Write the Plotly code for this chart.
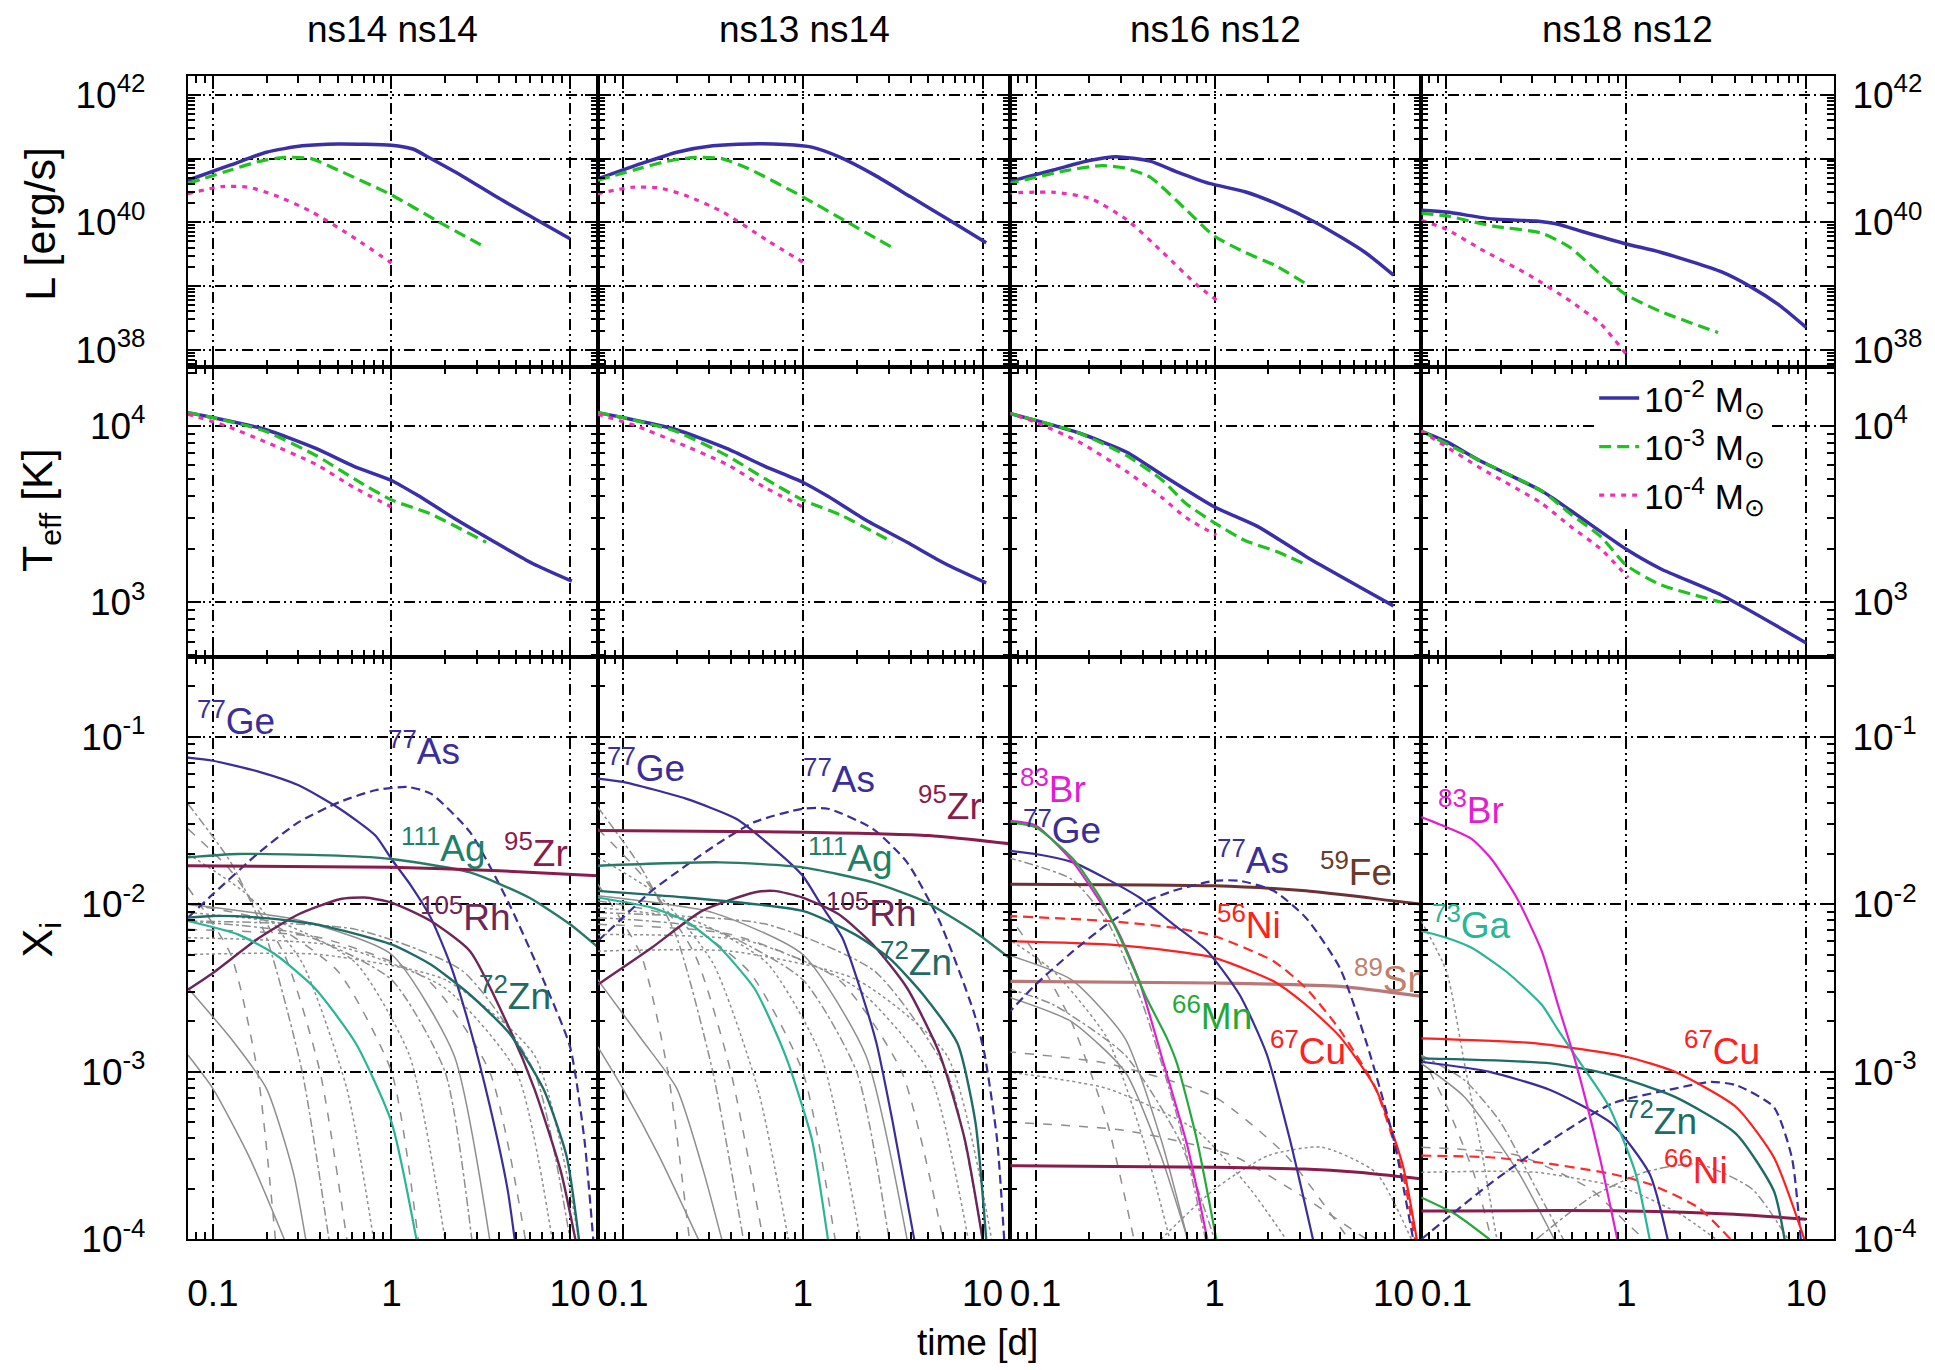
import plotly.graph_objects as go

W, H = 1935, 1370
FONT = "Liberation Sans, Arial, sans-serif"
NARROW = "Liberation Sans Narrow, Liberation Sans, Arial, sans-serif"

PANEL_TITLES = ["ns14 ns14", "ns13 ns14", "ns16 ns12", "ns18 ns12"]
MASS_NAMES = ["10<sup>-2</sup> M<sub>⊙</sub>",
              "10<sup>-3</sup> M<sub>⊙</sub>",
              "10<sup>-4</sup> M<sub>⊙</sub>"]

# ---------------- Luminosity: log10(t [d]), log10(L [erg/s]); masses 1e-2, 1e-3, 1e-4
lum_ns14_ns14 = [
    ([-1.14, -0.9, -0.7, -0.5, -0.3, 0.0, 0.12, 0.22, 0.4, 0.6, 0.8, 1.0],
     [40.66, 40.9, 41.1, 41.2, 41.23, 41.21, 41.15, 41.0, 40.72, 40.38, 40.06, 39.74]),
    ([-1.14, -0.9, -0.75, -0.6, -0.45, -0.3, 0.0, 0.25, 0.53],
     [40.61, 40.82, 40.95, 41.02, 41.0, 40.82, 40.43, 40.03, 39.6]),
    ([-1.14, -0.95, -0.8, -0.65, -0.45, -0.2, 0.0],
     [40.45, 40.56, 40.55, 40.42, 40.17, 39.74, 39.36]),
]
lum_ns13_ns14 = [
    ([-1.14, -0.9, -0.7, -0.5, -0.3, -0.1, 0.05, 0.2, 0.4, 0.6, 0.8, 1.02],
     [40.68, 40.92, 41.1, 41.2, 41.23, 41.22, 41.18, 41.03, 40.74, 40.4, 40.06, 39.68]),
    ([-1.14, -0.9, -0.75, -0.6, -0.45, -0.3, 0.0, 0.25, 0.5],
     [40.66, 40.85, 40.96, 41.02, 41.0, 40.84, 40.4, 40.0, 39.6]),
    ([-1.14, -0.95, -0.8, -0.65, -0.45, -0.2, 0.02],
     [40.45, 40.55, 40.54, 40.42, 40.17, 39.72, 39.34]),
]
lum_ns16_ns12 = [
    ([-1.16, -0.9, -0.7, -0.55, -0.36, -0.2, -0.03, 0.17, 0.34, 0.57, 0.84, 1.0],
     [40.63, 40.82, 40.97, 41.03, 40.96, 40.78, 40.61, 40.48, 40.3, 39.99, 39.53, 39.17]),
    ([-1.16, -0.83, -0.63, -0.5, -0.36, -0.16, 0.0, 0.17, 0.34, 0.52],
     [40.6, 40.81, 40.89, 40.85, 40.71, 40.2, 39.78, 39.53, 39.32, 39.02]),
    ([-1.16, -0.89, -0.69, -0.49, -0.29, -0.1, 0.02],
     [40.46, 40.47, 40.37, 40.04, 39.53, 39.02, 38.76]),
]
lum_ns18_ns12 = [
    ([-1.14, -1.0, -0.74, -0.5, -0.38, -0.25, 0.0, 0.19, 0.53, 0.69, 0.85, 1.0],
     [40.19, 40.16, 40.05, 40.02, 39.97, 39.86, 39.66, 39.53, 39.22, 38.99, 38.7, 38.35]),
    ([-1.14, -1.0, -0.74, -0.47, -0.31, -0.14, 0.0, 0.19, 0.51],
     [40.14, 40.1, 39.94, 39.83, 39.6, 39.17, 38.86, 38.6, 38.27]),
    ([-1.14, -1.0, -0.81, -0.54, -0.31, -0.14, 0.01],
     [40.03, 39.89, 39.58, 39.17, 38.76, 38.4, 37.89]),
]

# ---------------- Effective temperature: log10(t [d]), log10(Teff [K])
teff_ns14_ns14 = [
    ([-1.14, -1.0, -0.71, -0.42, -0.21, 0.0, 0.14, 0.36, 0.58, 0.79, 1.01],
     [4.074, 4.046, 3.98, 3.87, 3.77, 3.69, 3.61, 3.47, 3.34, 3.22, 3.12]),
    ([-1.14, -1.0, -0.71, -0.42, -0.21, 0.0, 0.22, 0.53],
     [4.074, 4.046, 3.97, 3.83, 3.70, 3.58, 3.50, 3.34]),
    ([-1.14, -0.93, -0.71, -0.42, -0.21, 0.0],
     [4.065, 4.0, 3.91, 3.78, 3.65, 3.54]),
]
teff_ns13_ns14 = [
    ([-1.14, -1.0, -0.71, -0.42, -0.21, 0.0, 0.14, 0.36, 0.58, 0.79, 1.02],
     [4.074, 4.046, 3.98, 3.87, 3.77, 3.68, 3.60, 3.46, 3.34, 3.22, 3.11]),
    ([-1.14, -1.0, -0.71, -0.42, -0.21, 0.0, 0.22, 0.5],
     [4.074, 4.046, 3.97, 3.83, 3.70, 3.58, 3.49, 3.34]),
    ([-1.14, -0.93, -0.71, -0.42, -0.21, 0.0],
     [4.065, 4.0, 3.91, 3.78, 3.65, 3.54]),
]
teff_ns16_ns12 = [
    ([-1.16, -1.0, -0.76, -0.49, -0.29, 0.0, 0.24, 0.51, 1.0],
     [4.074, 4.03, 3.96, 3.85, 3.72, 3.54, 3.43, 3.26, 2.98]),
    ([-1.16, -0.76, -0.49, -0.29, -0.16, 0.0, 0.17, 0.34, 0.52],
     [4.074, 3.96, 3.83, 3.69, 3.56, 3.45, 3.35, 3.29, 3.21]),
    ([-1.16, -1.0, -0.76, -0.49, -0.29, -0.16, 0.01],
     [4.074, 4.02, 3.91, 3.74, 3.59, 3.48, 3.38]),
]
teff_ns18_ns12 = [
    ([-1.14, -1.0, -0.81, -0.47, -0.31, 0.0, 0.19, 0.53, 1.0],
     [3.97, 3.91, 3.80, 3.63, 3.52, 3.30, 3.19, 3.04, 2.77]),
    ([-1.14, -0.81, -0.47, -0.31, -0.14, 0.0, 0.19, 0.53],
     [3.97, 3.80, 3.63, 3.50, 3.37, 3.21, 3.10, 3.00]),
    ([-1.14, -0.81, -0.47, -0.31, -0.14, 0.01],
     [3.97, 3.76, 3.56, 3.43, 3.30, 3.14]),
]

# ---------------- Mass fractions: log10(t [d]), log10(X_i)
iso_ns14_ns14 = {
    "Ge77": ([-1.14, -1.0, -0.74, -0.52, -0.29, -0.09, 0.0, 0.11, 0.22, 0.33, 0.44, 0.55, 0.65, 0.69],
             [-1.125, -1.144, -1.21, -1.29, -1.43, -1.59, -1.73, -1.89, -2.08, -2.36, -2.74, -3.2, -3.7, -4.0]),
    "As77": ([-1.14, -1.0, -0.74, -0.52, -0.29, -0.09, 0.09, 0.22, 0.44, 0.66, 0.85, 1.0, 1.08, 1.13],
             [-2.08, -1.94, -1.69, -1.51, -1.39, -1.32, -1.30, -1.34, -1.57, -2.0, -2.45, -2.85, -3.4, -4.0]),
    "Ag111": ([-1.14, -0.86, -0.3, 0.0, 0.44, 0.77, 1.0, 1.16],
              [-1.72, -1.70, -1.71, -1.73, -1.81, -1.96, -2.12, -2.26]),
    "Zr95": ([-1.14, 0.0, 0.6, 1.16], [-1.77, -1.78, -1.80, -1.83]),
    "Rh105": ([-1.14, -1.0, -0.74, -0.52, -0.29, -0.15, 0.0, 0.22, 0.44, 0.66, 0.8, 0.95, 1.03],
              [-2.51, -2.41, -2.20, -2.06, -1.97, -1.96, -1.99, -2.10, -2.28, -2.74, -3.1, -3.6, -4.0]),
    "Zn72": ([-1.14, -1.0, -0.74, -0.42, 0.0, 0.22, 0.44, 0.66, 0.85, 0.98, 1.05],
             [-2.08, -2.07, -2.08, -2.12, -2.24, -2.36, -2.54, -2.77, -3.1, -3.5, -4.0]),
    "Ga73": ([-1.14, -0.86, -0.65, -0.43, -0.2, 0.0, 0.14],
             [-2.10, -2.18, -2.30, -2.50, -2.83, -3.3, -4.0]),
}
iso_ns13_ns14 = {
    "Ge77": ([-1.14, -1.0, -0.65, -0.37, -0.18, 0.0, 0.10, 0.22, 0.33, 0.41, 0.5, 0.62],
             [-1.25, -1.27, -1.37, -1.49, -1.65, -1.83, -2.0, -2.2, -2.54, -2.83, -3.3, -4.0]),
    "As77": ([-1.14, -1.0, -0.84, -0.65, -0.46, -0.27, 0.0, 0.14, 0.39, 0.58, 0.76, 0.95, 1.01, 1.08, 1.12],
             [-2.22, -2.08, -1.92, -1.77, -1.63, -1.51, -1.43, -1.43, -1.55, -1.75, -2.10, -2.64, -2.89, -3.4, -4.0]),
    "Zr95": ([-1.14, 0.0, 0.7, 1.16], [-1.56, -1.57, -1.59, -1.64]),
    "Ag111": ([-1.14, -0.46, 0.0, 0.39, 0.67, 0.95, 1.16],
              [-1.77, -1.75, -1.78, -1.87, -1.98, -2.16, -2.33]),
    "Rh105": ([-1.14, -0.84, -0.56, -0.27, -0.16, 0.0, 0.2, 0.39, 0.58, 0.76, 0.9, 1.0],
              [-2.48, -2.26, -2.04, -1.93, -1.92, -1.96, -2.06, -2.24, -2.50, -2.89, -3.4, -4.0]),
    "Zn72": ([-1.14, -0.65, 0.0, 0.29, 0.48, 0.67, 0.86, 0.96, 1.02],
             [-1.92, -1.96, -2.04, -2.18, -2.32, -2.54, -2.83, -3.3, -4.0]),
    "Ga73": ([-1.14, -0.84, -0.65, -0.46, -0.27, -0.16, -0.08, 0.05, 0.14],
             [-1.96, -2.02, -2.10, -2.26, -2.50, -2.74, -2.95, -3.4, -4.0]),
}
iso_ns16_ns12 = {
    "Zr95": ([-1.16, 0.0, 0.5, 0.8, 1.16], [-3.56, -3.57, -3.58, -3.60, -3.64]),
    "Sr89": ([-1.16, 0.0, 0.7, 1.16], [-2.46, -2.47, -2.49, -2.55]),
    "Fe59": ([-1.16, 0.0, 0.51, 1.0, 1.16], [-1.88, -1.89, -1.92, -1.98, -2.0]),
    "Ni56": ([-1.16, -0.6, -0.23, 0.0, 0.33, 0.51, 0.70, 0.9, 1.05, 1.12],
             [-2.07, -2.10, -2.14, -2.19, -2.34, -2.50, -2.75, -3.1, -3.6, -4.0]),
    "Cu67": ([-1.16, -0.6, -0.23, 0.0, 0.33, 0.51, 0.70, 0.9, 1.05, 1.13],
             [-2.22, -2.24, -2.28, -2.32, -2.46, -2.60, -2.79, -3.1, -3.55, -4.0]),
    "As77": ([-1.16, -1.0, -0.79, -0.6, -0.42, -0.23, 0.0, 0.14, 0.33, 0.51, 0.70, 0.85, 1.0, 1.11],
             [-2.66, -2.48, -2.28, -2.12, -2.0, -1.92, -1.86, -1.86, -1.92, -2.08, -2.38, -2.83, -3.4, -4.0]),
    "Ge77": ([-1.16, -1.0, -0.79, -0.6, -0.42, -0.23, -0.04, 0.14, 0.29, 0.42, 0.55],
             [-1.68, -1.70, -1.75, -1.85, -1.96, -2.12, -2.28, -2.54, -2.89, -3.4, -4.0]),
    "Br83": ([-1.16, -1.0, -0.79, -0.55, -0.42, -0.29, -0.15, -0.04],
             [-1.50, -1.53, -1.75, -2.14, -2.46, -2.93, -3.45, -4.0]),
    "Mn66": ([-1.16, -1.0, -0.79, -0.64, -0.51, -0.38, -0.27, -0.21, -0.1, 0.01],
             [-1.51, -1.54, -1.73, -1.96, -2.24, -2.56, -2.79, -2.95, -3.4, -4.0]),
}
iso_ns18_ns12 = {
    "Zr95": ([-1.14, 0.0, 0.6, 1.0], [-3.83, -3.83, -3.85, -3.88]),
    "Mn66": ([-1.14, -0.95, -0.76], [-3.75, -3.85, -4.0]),
    "Ni66": ([-1.14, -0.76, -0.42, -0.08, 0.13, 0.40, 0.58],
             [-3.50, -3.51, -3.55, -3.61, -3.67, -3.81, -4.0]),
    "As77": ([-1.14, -0.76, -0.42, -0.08, 0.27, 0.47, 0.61, 0.82, 0.92, 0.97],
             [-4.0, -3.67, -3.41, -3.19, -3.10, -3.06, -3.08, -3.21, -3.51, -4.0]),
    "Ge77": ([-1.14, -0.76, -0.42, -0.08, 0.13, 0.23],
             [-2.94, -3.0, -3.11, -3.31, -3.61, -4.0]),
    "Zn72": ([-1.14, -0.42, -0.08, 0.27, 0.61, 0.82, 0.88],
             [-2.92, -2.95, -3.02, -3.15, -3.37, -3.71, -4.0]),
    "Cu67": ([-1.14, -0.5, 0.0, 0.27, 0.61, 0.82, 0.99],
             [-2.80, -2.83, -2.91, -3.0, -3.21, -3.51, -4.0]),
    "Ga73": ([-1.14, -1.0, -0.86, -0.67, -0.47, -0.38, -0.28, -0.1, 0.05, 0.13],
             [-2.16, -2.20, -2.26, -2.40, -2.60, -2.75, -2.91, -3.2, -3.6, -4.0]),
    "Br83": ([-1.14, -1.0, -0.86, -0.75, -0.61, -0.47, -0.38, -0.28, -0.15, -0.05],
             [-1.48, -1.54, -1.61, -1.73, -1.96, -2.28, -2.60, -2.95, -3.5, -4.0]),
}

# other (unlabelled) isotopes, grey: log10(t), log10(X)
grey_ns14_ns14 = [
    ([-1.14, -0.9, -0.7, -0.5, -0.35], [-1.40, -1.75, -2.2, -3.0, -4.0]),
    ([-1.14, -0.9, -0.6, -0.4, -0.25], [-1.55, -1.80, -2.3, -3.0, -4.0]),
    ([-1.14, -0.8, -0.5, -0.25, -0.1], [-1.70, -1.95, -2.35, -3.1, -4.0]),
    ([-1.14, -0.9, -0.7, -0.55, -0.48], [-2.5, -2.8, -3.1, -3.6, -4.0]),
    ([-1.14, -0.7, -0.3, 0.0, 0.15], [-2.0, -2.1, -2.4, -3.0, -4.0]),
    ([-1.14, -0.6, -0.2, 0.1, 0.3], [-2.05, -2.12, -2.35, -2.9, -4.0]),
    ([-1.14, -0.5, 0.0, 0.3, 0.45], [-2.1, -2.18, -2.45, -3.0, -4.0]),
    ([-1.14, -0.5, 0.0, 0.35, 0.55], [-2.0, -2.1, -2.3, -2.9, -4.0]),
    ([-1.14, -0.4, 0.2, 0.55, 0.75], [-2.15, -2.2, -2.45, -3.0, -4.0]),
    ([-1.14, -0.3, 0.3, 0.7, 0.9], [-2.2, -2.25, -2.5, -3.0, -4.0]),
    ([-1.14, -0.2, 0.4, 0.8, 1.0], [-2.1, -2.15, -2.4, -3.0, -4.0]),
    ([-1.14, -1.0, -0.8, -0.6], [-2.9, -3.1, -3.5, -4.0]),
    ([-1.14, -0.9, -0.75, -0.65], [-1.9, -2.3, -3.0, -4.0]),
    ([-1.14, -0.4, 0.3, 0.8, 1.05], [-2.3, -2.3, -2.45, -2.9, -4.0]),
]
grey_ns13_ns14 = [
    ([-1.14, -0.9, -0.7, -0.5, -0.33], [-1.42, -1.78, -2.2, -3.0, -4.0]),
    ([-1.14, -0.9, -0.6, -0.4, -0.22], [-1.55, -1.82, -2.3, -3.0, -4.0]),
    ([-1.14, -0.8, -0.5, -0.25, -0.08], [-1.72, -1.95, -2.35, -3.1, -4.0]),
    ([-1.14, -0.9, -0.7, -0.55, -0.45], [-2.45, -2.8, -3.1, -3.6, -4.0]),
    ([-1.14, -0.7, -0.3, 0.0, 0.18], [-1.98, -2.08, -2.4, -3.0, -4.0]),
    ([-1.14, -0.6, -0.2, 0.1, 0.32], [-2.02, -2.1, -2.35, -2.9, -4.0]),
    ([-1.14, -0.5, 0.0, 0.3, 0.48], [-2.08, -2.15, -2.45, -3.0, -4.0]),
    ([-1.14, -0.5, 0.0, 0.35, 0.58], [-1.95, -2.05, -2.3, -2.9, -4.0]),
    ([-1.14, -0.4, 0.2, 0.55, 0.78], [-2.12, -2.18, -2.45, -3.0, -4.0]),
    ([-1.14, -0.3, 0.3, 0.7, 0.92], [-2.18, -2.22, -2.5, -3.0, -4.0]),
    ([-1.14, -0.2, 0.4, 0.8, 1.0], [-2.05, -2.12, -2.4, -3.0, -4.0]),
    ([-1.14, -1.0, -0.8, -0.58], [-2.85, -3.1, -3.5, -4.0]),
    ([-1.14, -0.9, -0.75, -0.63], [-1.88, -2.3, -3.0, -4.0]),
    ([-1.14, -0.4, 0.3, 0.8, 1.05], [-2.28, -2.28, -2.45, -2.9, -4.0]),
]
grey_ns16_ns12 = [
    ([-1.16, -0.8, -0.6, -0.4, -0.2, -0.05], [-1.72, -1.85, -2.1, -2.6, -3.3, -4.0]),
    ([-1.16, -1.0, -0.8, -0.6, -0.45], [-2.05, -2.3, -2.7, -3.3, -4.0]),
    ([-1.16, -0.9, -0.6, -0.4, -0.25], [-2.2, -2.4, -2.8, -3.4, -4.0]),
    ([-1.16, -0.8, -0.5, -0.3, -0.15], [-2.3, -2.45, -2.8, -3.4, -4.0]),
    ([-1.16, -0.6, 0.0, 0.4, 0.75], [-2.88, -2.95, -3.15, -3.5, -4.0]),
    ([-1.16, -0.6, -0.1, 0.2, 0.4], [-3.0, -3.1, -3.35, -3.7, -4.0]),
    ([-1.16, -0.9, -0.5, -0.2, 0.0], [-2.5, -2.6, -2.9, -3.4, -4.0]),
    ([-1.16, -0.8, -0.5, -0.3, -0.15], [-2.55, -2.7, -3.0, -3.5, -4.0]),
    ([-1.16, -0.5, 0.1, 0.5, 0.85], [-3.3, -3.35, -3.5, -3.75, -4.0]),
    ([-0.3, 0.0, 0.3, 0.6, 0.9, 1.1], [-4.0, -3.7, -3.5, -3.45, -3.6, -4.0]),
]
grey_ns18_ns12 = [
    ([-1.14, -0.9, -0.7, -0.5, -0.35], [-2.9, -3.05, -3.3, -3.7, -4.0]),
    ([-1.14, -1.0, -0.85, -0.75], [-2.9, -3.2, -3.6, -4.0]),
    ([-1.14, -1.0, -0.9, -0.8, -0.72], [-2.1, -2.4, -2.95, -3.5, -4.0]),
    ([-1.14, -0.9, -0.6, -0.4], [-2.95, -3.15, -3.6, -4.0]),
    ([-1.14, -0.6, -0.2, 0.0, 0.1], [-3.45, -3.5, -3.7, -3.9, -4.0]),
    ([-1.14, -0.5, 0.0, 0.3, 0.5], [-3.6, -3.6, -3.7, -3.85, -4.0]),
    ([-0.5, -0.2, 0.1, 0.4, 0.7, 0.9], [-4.0, -3.75, -3.6, -3.55, -3.7, -4.0]),
]

LUM = [lum_ns14_ns14, lum_ns13_ns14, lum_ns16_ns12, lum_ns18_ns12]
TEFF = [teff_ns14_ns14, teff_ns13_ns14, teff_ns16_ns12, teff_ns18_ns12]
ISO = [iso_ns14_ns14, iso_ns13_ns14, iso_ns16_ns12, iso_ns18_ns12]
GREY = [grey_ns14_ns14, grey_ns13_ns14, grey_ns16_ns12, grey_ns18_ns12]

# isotope label placement: (name, text, log t of left edge, log X centre)
LABELS = [
    [("Ge77", "<sup>77</sup>Ge", -1.10, -0.89), ("As77", "<sup>77</sup>As", -0.03, -1.07),
     ("Ag111", "<sup>111</sup>Ag", 0.04, -1.65), ("Zr95", "<sup>95</sup>Zr", 0.62, -1.68),
     ("Rh105", "<sup>105</sup>Rh", 0.15, -2.06), ("Zn72", "<sup>72</sup>Zn", 0.48, -2.53)],
    [("Ge77", "<sup>77</sup>Ge", -1.10, -1.17), ("As77", "<sup>77</sup>As", -0.01, -1.24),
     ("Zr95", "<sup>95</sup>Zr", 0.63, -1.40), ("Ag111", "<sup>111</sup>Ag", 0.02, -1.71),
     ("Rh105", "<sup>105</sup>Rh", 0.12, -2.04), ("Zn72", "<sup>72</sup>Zn", 0.42, -2.33)],
    [("Br83", "<sup>83</sup>Br", -1.10, -1.30), ("Ge77", "<sup>77</sup>Ge", -1.08, -1.54),
     ("As77", "<sup>77</sup>As", 0.0, -1.72), ("Fe59", "<sup>59</sup>Fe", 0.58, -1.79),
     ("Ni56", "<sup>56</sup>Ni", 0.0, -2.11), ("Sr89", "<sup>89</sup>Sr", 0.77, -2.43),
     ("Mn66", "<sup>66</sup>Mn", -0.25, -2.65), ("Cu67", "<sup>67</sup>Cu", 0.30, -2.86)],
    [("Br83", "<sup>83</sup>Br", -1.06, -1.42), ("Ga73", "<sup>73</sup>Ga", -1.09, -2.11),
     ("Cu67", "<sup>67</sup>Cu", 0.31, -2.86), ("Zn72", "<sup>72</sup>Zn", -0.02, -3.28),
     ("Ni66", "<sup>66</sup>Ni", 0.20, -3.57)],
]

# ---------------- styles
MASS_STYLE = [("#3a2fa8", "solid", 3.5), ("#1fc21f", "12px,6px", 3.2), ("#f030b4", "5px,6px", 3.2)]
ISO_LINE = {
    "Ge77": ("#3a2f9a", "solid", 2.2), "As77": ("#3a2f9a", "9px,5px", 2.2),
    "Ag111": ("#2a7a68", "solid", 2.4), "Zr95": ("#8a1c4c", "solid", 3.0),
    "Rh105": ("#6e2558", "solid", 2.4), "Zn72": ("#1f6b68", "solid", 2.4),
    "Ga73": ("#2ab597", "solid", 2.2), "Br83": ("#e21fd0", "solid", 2.2),
    "Mn66": ("#25a83a", "solid", 2.2), "Fe59": ("#6a3232", "solid", 3.0),
    "Ni56": ("#ff2a2a", "10px,6px", 2.2), "Ni66": ("#ff2a2a", "10px,6px", 2.2),
    "Cu67": ("#ff1f1f", "solid", 2.2), "Sr89": ("#b87878", "solid", 3.2),
}
ISO_TEXT = {
    "Ge77": "#3a2f9a", "As77": "#3a2f9a", "Ag111": "#1f7f6a", "Zr95": "#8a1c4c",
    "Rh105": "#6e2558", "Zn72": "#1f6b68", "Ga73": "#2ab597", "Br83": "#e21fd0",
    "Mn66": "#25a83a", "Fe59": "#6b3a2a", "Ni56": "#ff2020", "Ni66": "#ff2020",
    "Cu67": "#ff2020", "Sr89": "#c0806a",
}
GREY_DASH = ["dashdot", "dash", "dot", "solid", "dash", "dot", "dashdot",
             "solid", "dash", "dot", "dashdot", "solid", "dash", "dot"]

COL_PX = [179, 589, 1002, 1413, 1826]
ROW_PX = [63, 360, 656, 1250]
XR = [-1.14, 1.155]
YR = [[37.73, 42.30], [2.69, 4.333], [-4.0, -0.525]]


def xdom(c):
    return [COL_PX[c] / W, COL_PX[c + 1] / W]


def ydom(r):
    return [1 - ROW_PX[r + 1] / H, 1 - ROW_PX[r] / H]


def minor_vals(lo, hi):
    return [float(m) * 10.0 ** e for e in range(lo, hi) for m in range(2, 10)]


Y_TICKS = [
    ([1e38, 1e39, 1e40, 1e41, 1e42],
     ["10<sup>38</sup>", " ", "10<sup>40</sup>", " ", "10<sup>42</sup>"], minor_vals(37, 43)),
    ([1e3, 1e4], ["10<sup>3</sup>", "10<sup>4</sup>"], minor_vals(2, 5)),
    ([1e-4, 1e-3, 1e-2, 1e-1],
     ["10<sup>-4</sup>", "10<sup>-3</sup>", "10<sup>-2</sup>", "10<sup>-1</sup>"], minor_vals(-5, 0)),
]

GRID_DASH = "11px,4px,2px,4px,2px,4px"

fig = go.Figure()


def ax_name(p):
    return ("x" if p == 1 else f"x{p}"), ("y" if p == 1 else f"y{p}")


def tr(p, t, v, color, dash, width, name=None, legend=False):
    xa, ya = ax_name(p)
    fig.add_trace(go.Scatter(
        x=[10.0 ** a for a in t], y=[10.0 ** b for b in v], mode="lines",
        line=dict(color=color, dash=dash, width=width, shape="spline", smoothing=0.6),
        xaxis=xa, yaxis=ya, name=name, showlegend=legend, hoverinfo="skip"))


annotations = []
for c in range(4):
    p = 0 * 4 + c + 1
    for k, (t, v) in enumerate(LUM[c]):
        col, dash, w = MASS_STYLE[k]
        tr(p, t, v, col, dash, w, MASS_NAMES[k], legend=(c == 0))
    p = 1 * 4 + c + 1
    for k, (t, v) in enumerate(TEFF[c]):
        col, dash, w = MASS_STYLE[k]
        tr(p, t, v, col, dash, w)
    p = 2 * 4 + c + 1
    for g, (t, v) in enumerate(GREY[c]):
        tr(p, t, v, "#8e8e8e", GREY_DASH[g % len(GREY_DASH)], 1.5)
    for key, (t, v) in ISO[c].items():
        col, dash, w = ISO_LINE[key]
        tr(p, t, v, col, dash, w)
    xa, ya = ax_name(p)
    for key, text, lx, ly in LABELS[c]:
        annotations.append(dict(
            x=lx, y=ly, xref=xa, yref=ya, text=text, showarrow=False,
            xanchor="left", yanchor="middle",
            font=dict(family=FONT, size=37, color=ISO_TEXT[key])))
    annotations.append(dict(
        x=(COL_PX[c] + COL_PX[c + 1]) / 2 / W, y=1 - 16 / H, xref="paper", yref="paper",
        text=PANEL_TITLES[c], showarrow=False, xanchor="center", yanchor="middle",
        font=dict(family=FONT, size=37, color="black")))

for text, ypx, size in [("L [erg/s]", 214, 43), ("T<sub>eff</sub> [K]", 506, 43),
                        ("X<sub>i</sub>", 944, 43)]:
    annotations.append(dict(x=31 / W, y=1 - ypx / H, xref="paper", yref="paper", text=text,
                            textangle=-90, showarrow=False, xanchor="center", yanchor="middle",
                            font=dict(family=FONT, size=size, color="black")))
annotations.append(dict(x=969 / W, y=1 - 1355 / H, xref="paper", yref="paper", text="time [d]",
                        showarrow=False, xanchor="center", yanchor="middle",
                        font=dict(family=FONT, size=37, color="black")))

layout = dict(
    width=W, height=H, margin=dict(l=0, r=0, t=0, b=0),
    paper_bgcolor="white", plot_bgcolor="white",
    font=dict(family=FONT, size=34, color="black"),
    annotations=annotations,
    legend=dict(x=1586 / W, y=1 - 362 / H, xanchor="left", yanchor="top",
                bgcolor="white", borderwidth=0, font=dict(family=NARROW, size=35),
                itemwidth=40, tracegroupgap=0),
)

x_minor = minor_vals(-2, 2)
for r in range(3):
    for c in range(4):
        p = r * 4 + c + 1
        xa, ya = ax_name(p)
        xkey = "xaxis" if p == 1 else f"xaxis{p}"
        ykey = "yaxis" if p == 1 else f"yaxis{p}"
        common = dict(type="log", showline=True, linecolor="black", linewidth=2,
                      mirror="allticks", ticks="inside", ticklen=13, tickwidth=2,
                      tickcolor="black", showgrid=True, gridcolor="black", gridwidth=1.6,
                      griddash=GRID_DASH, zeroline=False, fixedrange=True,
                      tickfont=dict(family=NARROW, size=37, color="black"))
        layout[xkey] = dict(
            common, domain=xdom(c), anchor=ya, range=XR,
            tickmode="array", tickvals=[0.1, 1, 10], ticktext=["0.1", "1", "10"],
            showticklabels=(r == 2), ticklabelstandoff=20,
            minor=dict(ticks="inside", ticklen=7, tickwidth=1.5, tickcolor="black",
                       tickmode="array", tickvals=x_minor, showgrid=False))
        tv, tt, mv = Y_TICKS[r]
        layout[ykey] = dict(
            common, domain=ydom(r), anchor=xa, range=YR[r],
            tickmode="array", tickvals=tv, ticktext=tt,
            showticklabels=(c in (0, 3)), side=("right" if c == 3 else "left"),
            ticklabelstandoff=(9 if c == 3 else 33),
            minor=dict(ticks="inside", ticklen=7, tickwidth=1.5, tickcolor="black",
                       tickmode="array", tickvals=mv, showgrid=False))

fig.update_layout(**layout)
fig.write_html("out.html")
